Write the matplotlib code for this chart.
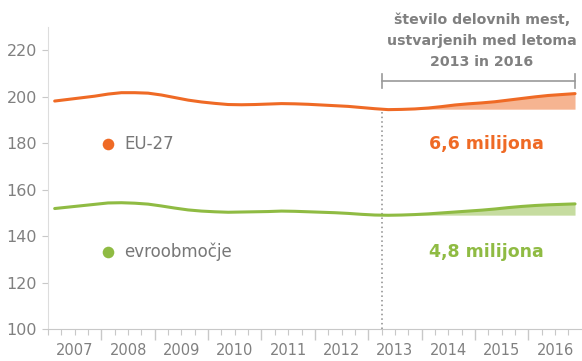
import numpy as np
import matplotlib.pyplot as plt
from matplotlib.transforms import blended_transform_factory

# Quarterly employment (millions), 2007Q1 - 2016Q4
years = list(range(2007, 2017))
eu27 = [198.2, 198.9, 199.6, 200.3,
        201.2, 201.8, 201.8, 201.6,
        200.8, 199.7, 198.6, 197.8,
        197.2, 196.7, 196.6, 196.7,
        196.9, 197.1, 197.0, 196.8,
        196.5, 196.2, 195.9, 195.4,
        194.9, 194.5, 194.6, 194.8,
        195.2, 195.8, 196.5, 197.0,
        197.4, 197.9, 198.6, 199.3,
        200.0, 200.6, 201.0, 201.4]
euro_area = [151.9, 152.5, 153.1, 153.7,
             154.3, 154.4, 154.2, 153.8,
             153.0, 152.1, 151.3, 150.8,
             150.5, 150.3, 150.4, 150.5,
             150.6, 150.8, 150.7, 150.5,
             150.3, 150.1, 149.8, 149.4,
             149.1, 149.0, 149.1, 149.3,
             149.6, 150.0, 150.4, 150.8,
             151.2, 151.7, 152.3, 152.8,
             153.2, 153.5, 153.7, 153.9]
series_names = ['EU-27', 'evroobmočje']
gain_labels = ['6,6 milijona', '4,8 milijona']
yticks = [100, 120, 140, 160, 180, 200, 220]
start_2013 = 2013.25

ORANGE = '#ef6a25'
GREEN = '#8fbb43'
GREY = '#808080'

t = np.array(years[0] + 0.125 + 0.25 * np.arange(len(eu27)))

fig = plt.figure(figsize=(5.82, 3.61), dpi=100)
ax = fig.add_axes([0.0825, 0.0886, 0.917, 0.836])

for values, color in [(eu27, ORANGE), (euro_area, GREEN)]:
    values = np.array(values)
    ax.plot(t, values, color=color, lw=2.2, solid_capstyle='round', zorder=3)
    # shaded gain since the start of 2013
    tt = np.concatenate([[start_2013], t[t > start_2013]])
    vv = np.interp(tt, t, values)
    ax.fill_between(tt, vv[0], vv, color=color, alpha=0.5, lw=0, zorder=2)

# dotted marker for the start of 2013
ax.vlines(start_2013, 100, np.interp(start_2013, t, eu27), colors='#8a8a8a',
          linestyles=(0, (1, 2)), lw=1.1, zorder=1)

# bracket over the 2013-2016 span
br_y = 207
ax.plot([start_2013, t[-1]], [br_y, br_y], color='#999999', lw=1.2, clip_on=False)
for xe in (start_2013, t[-1]):
    ax.plot([xe, xe], [br_y - 3, br_y + 3], color='#999999', lw=1.2, clip_on=False)
ax.text(2015.13, 212.2, 'število delovnih mest,\nustvarjenih med letoma\n2013 in 2016',
        ha='center', va='bottom', fontsize=10.2, fontweight='bold', color=GREY,
        linespacing=1.6, clip_on=False)

# series labels and gains
for name, gain, color, yv in [(series_names[0], gain_labels[0], ORANGE, 179.6),
                              (series_names[1], gain_labels[1], GREEN, 133.2)]:
    ax.scatter([2008.13], [yv], s=70, color=color, zorder=4, lw=0)
    ax.text(2008.43, yv, name, ha='left', va='center', fontsize=12, color='#777777')
    ax.text(2015.22, yv, gain, ha='center', va='center', fontsize=12.5,
            fontweight='bold', color=color)

ax.set_xlim(2007, 2017)
ax.set_ylim(100, 230)
ax.set_yticks(yticks)
ax.set_xticks(years[1:])
ax.set_xticklabels([])
ax.set_xticks(np.arange(2007, 2017, 0.25), minor=True)
ax.tick_params(axis='x', which='major', length=8, color='#c8c8c8', width=1)
ax.tick_params(axis='x', which='minor', length=4, color='#c8c8c8', width=0.8)
ax.tick_params(axis='y', length=4, color='#c8c8c8', labelcolor=GREY, labelsize=11.5, pad=4)

trans = blended_transform_factory(ax.transData, ax.transAxes)
for y in years:
    ax.text(y + 0.5, -0.045, str(y), transform=trans, ha='center', va='top',
            fontsize=10.5, color=GREY)

for side in ('top', 'right'):
    ax.spines[side].set_visible(False)
ax.spines['left'].set_color('#dddddd')
ax.spines['bottom'].set_color('#c8c8c8')

fig.savefig('out.png', dpi=100)
